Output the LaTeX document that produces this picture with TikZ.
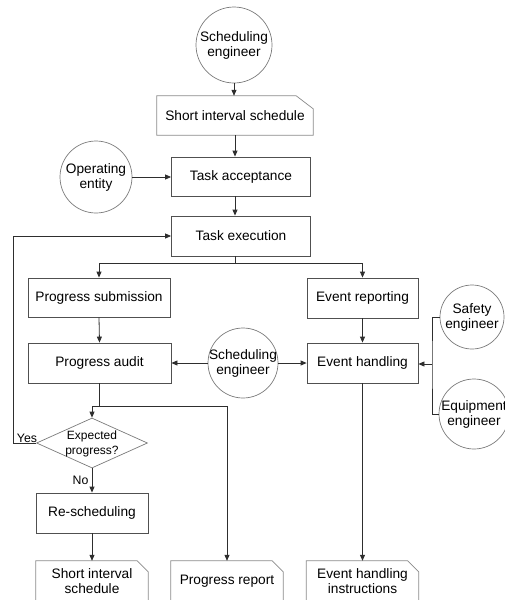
\documentclass[tikz,border=0pt]{standalone}
\usepackage{fontspec}
\setmainfont{Liberation Sans}
\usetikzlibrary{arrows.meta,shapes.geometric}
\definecolor{boxgray}{HTML}{505050}
\definecolor{circgray}{HTML}{7A7A7A}
\definecolor{docgray}{HTML}{8A8A8A}
\definecolor{linegray}{HTML}{2E2E2E}
\begin{document}
\begin{tikzpicture}[x=1pt,y=1pt,
  every node/.style={font=\fontsize{13.7}{15}\selectfont, align=center},
  proc/.style={draw=boxgray, line width=0.8pt, rectangle, inner sep=0pt},
  actor/.style={draw=circgray, line width=0.7pt, circle, inner sep=0pt},
  docbox/.style={rectangle, inner sep=0pt},
  docline/.style={draw=docgray, line width=0.7pt},
  decision/.style={draw=circgray, line width=0.7pt, diamond, inner sep=0pt, aspect=2.22},
  flow/.style={draw=linegray, line width=0.8pt},
  arr/.style={flow, -{Triangle[length=6pt,width=5pt]}},
  small/.style={font=\fontsize{12.3}{14}\selectfont},
]
\useasboundingbox (0,0) rectangle (505,-600);
\clip (0,0) rectangle (505,-600);

% actors (circles); labels are set on top so they may run past the rim
\node[actor, minimum size=76] (se1) at (234,-45) {};
\node at (se1) {Scheduling\\engineer};
\node[actor, minimum size=72] (oe) at (96,-177) {};
\node at (oe) {Operating\\entity};
\node[actor, minimum size=70] (se2) at (243,-363) {};
\node at (se2) {Scheduling\\engineer};
\node[actor, minimum size=64] (safe) at (472,-317) {};
\node at (safe) {Safety\\engineer};
\node[actor, minimum size=70] (equip) at (474,-414) {};
\node at (equip) {Equipment\\engineer};

% process steps
\node[proc, minimum width=139, minimum height=39] (ta) at (241,-176.5) {Task acceptance};
\node[proc, minimum width=139, minimum height=40] (te) at (241,-236) {Task execution};
\node[proc, minimum width=142, minimum height=39] (ps) at (99,-297.5) {Progress submission};
\node[proc, minimum width=111, minimum height=40] (er) at (362.5,-298) {Event reporting};
\node[proc, minimum width=143, minimum height=40] (pa) at (99.5,-363) {Progress audit};
\node[proc, minimum width=111, minimum height=40] (eh) at (362.5,-363) {Event handling};
\node[proc, minimum width=112, minimum height=40] (rs) at (92,-513) {Re-scheduling};
\node[decision, minimum width=111, minimum height=50] (dec) at (92,-443) {};
\node[font=\fontsize{12}{15.5}\selectfont] at ([yshift=-1pt]dec) {Expected\\progress?};

% documents
\node[docbox, minimum width=156, minimum height=39] (sis) at (235,-115.5) {Short interval schedule};
\node[docbox, minimum width=112, minimum height=40] (sis2) at (92,-581) {Short interval\\schedule};
\node[docbox, minimum width=112, minimum height=40] (prep) at (227,-581) {Progress report};
\node[docbox, minimum width=112, minimum height=40] (ehi) at (362.5,-581) {Event handling\\instructions};
\draw[docline] (sis.south west) -- (sis.north west) -- ([xshift=-17pt]sis.north east)
  -- ([yshift=-13pt]sis.north east) -- (sis.south east) -- cycle;
\foreach \d in {sis2,prep,ehi}
  \draw[docline] (\d.south west) -- (\d.north west) -- ([xshift=-11pt]\d.north east)
    -- ([yshift=-11pt]\d.north east) -- (\d.south east);

% main flow
\draw[arr] (se1.south) -- (sis.north -| se1.south);
\draw[arr] (sis.south) -- (sis.south |- ta.north);
\draw[arr] (oe.east) -- (oe.east -| ta.west);
\draw[arr] (sis.south |- ta.south) -- (sis.south |- te.north);

\coordinate (split) at (235,-263);
\draw[flow] (sis.south |- te.south) -- (split);
\draw[arr] (split) -| (ps.north);
\draw[arr] (split) -| (er.north);
\draw[arr] (ps.south) -- (pa.north);
\draw[arr] (er.south) -- (eh.north);

\draw[arr] (se2.west) -- (pa.east);
\draw[arr] (se2.east) -- (eh.west);

\coordinate (bus) at (432,-364);
\draw[flow] (safe.west) -| (bus) |- (equip.west);
\draw[arr] (bus) -- (eh.east |- bus);

\coordinate (pj) at (99.5,-406);
\draw[flow] (pa.south) -- (pj);
\draw[arr] (pj) -| (dec.north);
\draw[arr] (pj) -| (prep.north);
\draw[arr] (eh.south) -- (ehi.north);

\coordinate (back) at (13,-443);
\draw[arr] (dec.west) -- (back) |- (te.west);
\node[small, anchor=south] (yes) at (27,-446) {Yes};
\draw[arr] (dec.south) -- (rs.north);
\node[small, anchor=east] (no) at (92,-480) {No};
\draw[arr] (rs.south) -- (sis2.north);
\end{tikzpicture}
\end{document}
